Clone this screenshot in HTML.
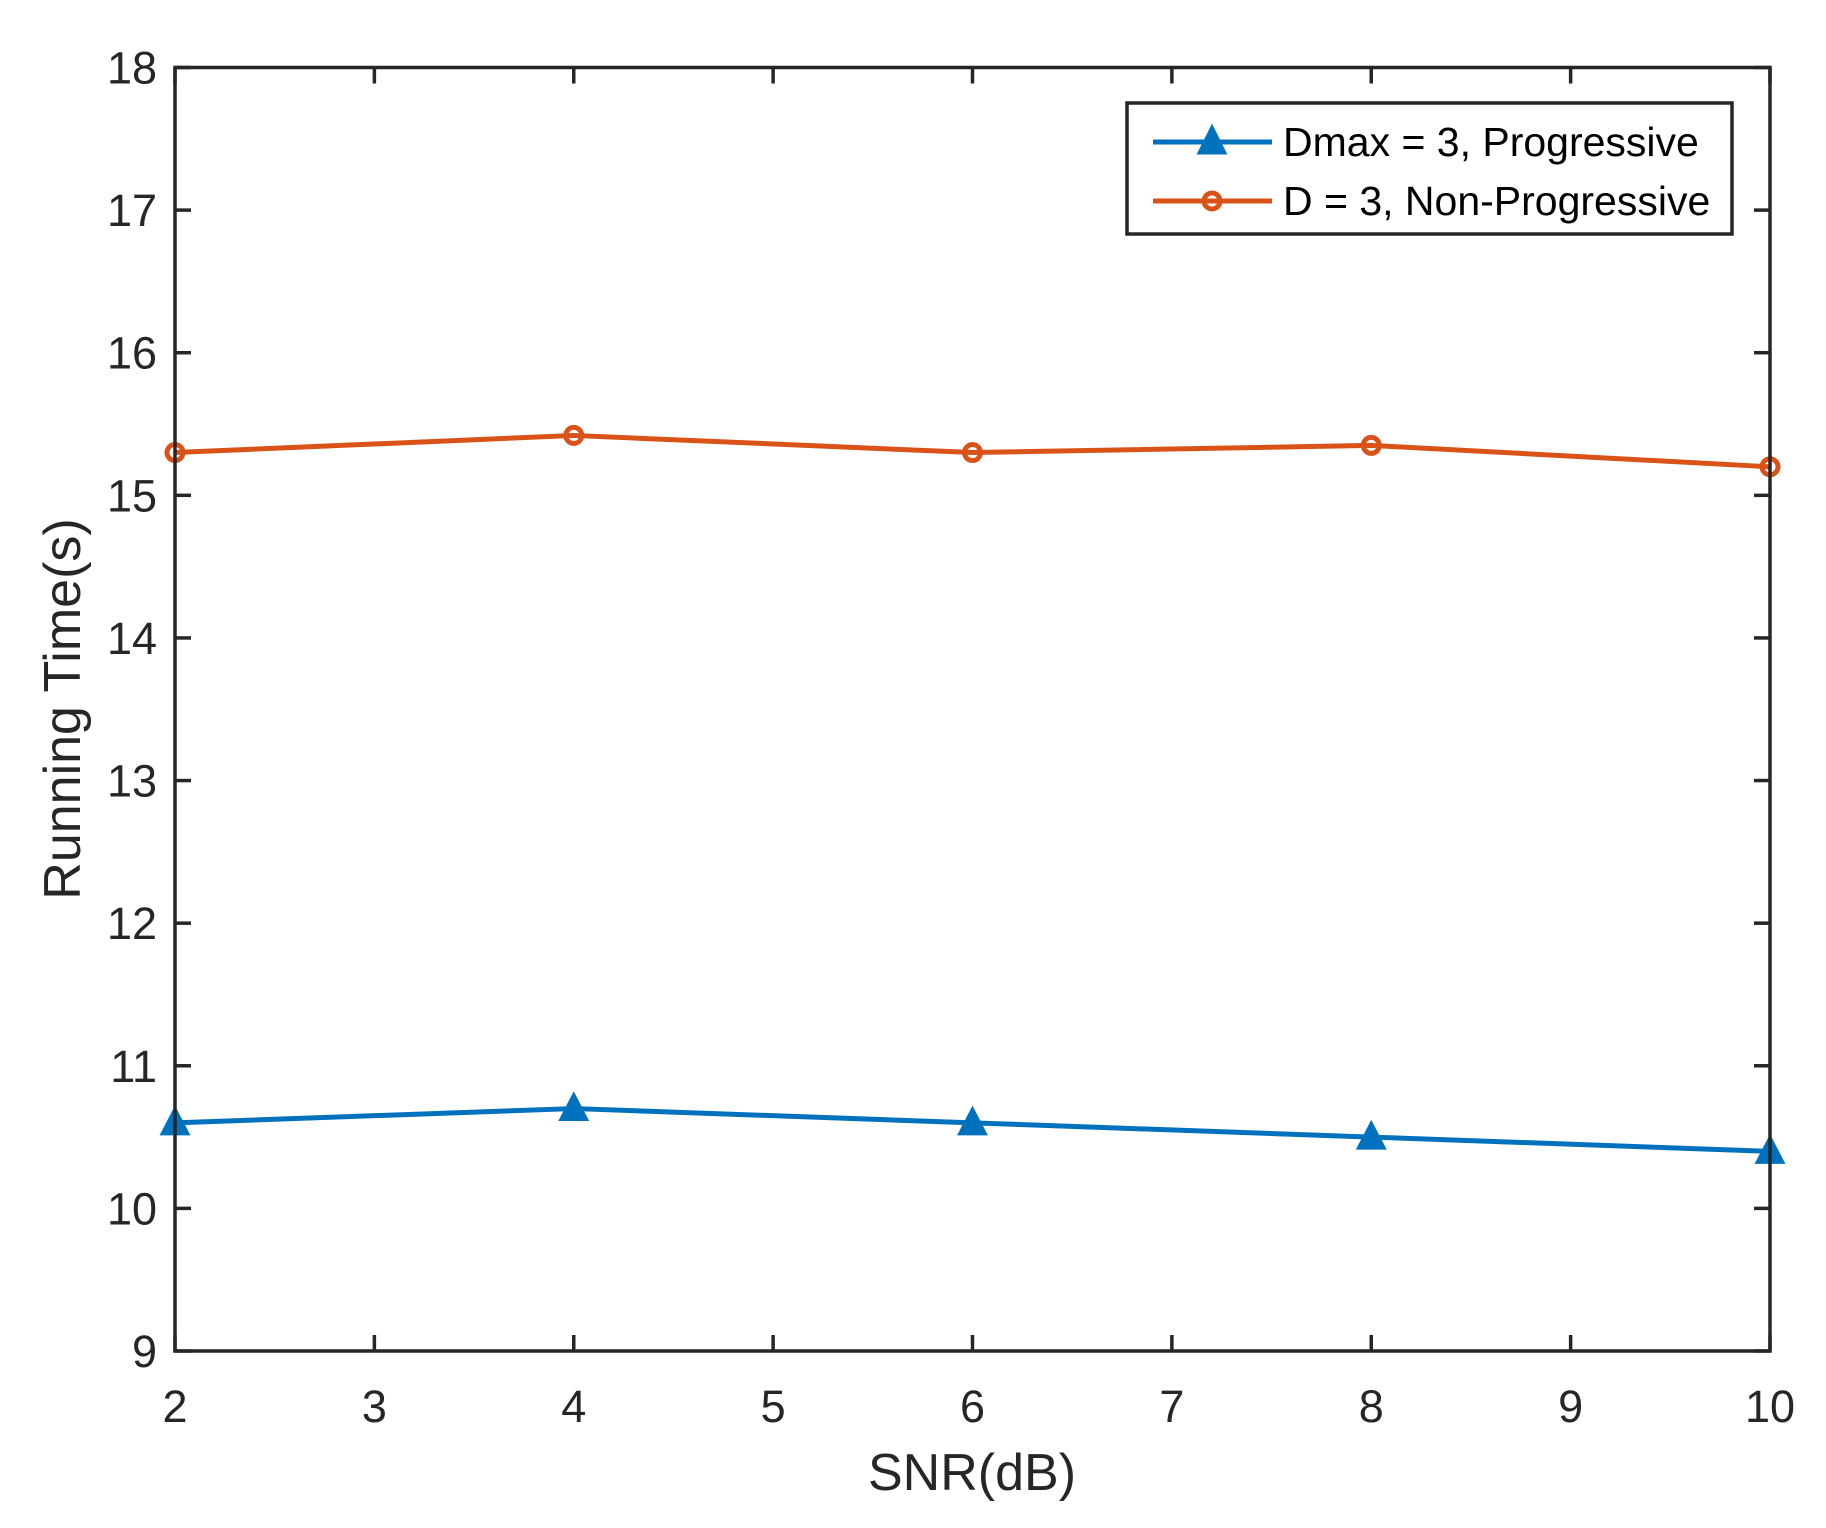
<!DOCTYPE html>
<html><head><meta charset="utf-8"><style>
html,body{margin:0;padding:0;background:#fff}
svg{display:block;font-family:"Liberation Sans",Arial,sans-serif}
</style></head><body>
<svg id="chart" width="1826" height="1528" viewBox="0 0 1826 1528">
<rect width="1826" height="1528" fill="#fff"/>
<g id="grid"></g>
<g id="series"></g>
<rect x="175" y="67.5" width="1595" height="1283.5" fill="none" stroke="#262626" stroke-width="3.5"/>
<text x="972" y="1490" font-size="52" fill="#262626" text-anchor="middle">SNR(dB)</text>
<text transform="translate(80,709) rotate(-90)" font-size="52" fill="#262626" text-anchor="middle">Running Time(s)</text>
<g>
<rect x="1127" y="103" width="605" height="131" fill="#fff" stroke="#262626" stroke-width="3.5"/>
<line x1="1153" y1="142" x2="1272" y2="142" stroke="#0072BD" stroke-width="5"/>
<polygon points="1212,127 1199,153 1225,153" fill="#0072BD" stroke="#0072BD" stroke-width="3"/>
<text x="1283" y="156" font-size="41" fill="#000">Dmax = 3, Progressive</text>
<line x1="1153" y1="201" x2="1272" y2="201" stroke="#D95319" stroke-width="5"/>
<circle cx="1212" cy="201" r="8" fill="none" stroke="#D95319" stroke-width="5"/>
<text x="1283" y="215" font-size="41" fill="#000">D = 3, Non-Progressive</text>
</g>
</svg>
<script>
const snrValues = [2, 4, 6, 8, 10];
const progressiveTimes = [10.6, 10.7, 10.6, 10.5, 10.4];
const nonProgressiveTimes = [15.3, 15.42, 15.3, 15.35, 15.2];
const xTickLabels = ["2","3","4","5","6","7","8","9","10"];
const yTickLabels = ["9","10","11","12","13","14","15","16","17","18"];

const NS = "http://www.w3.org/2000/svg";
const L = 175, R = 1770, T = 67.5, B = 1351;
function xs(v){ return L + (v - 2) / 8 * (R - L); }
function ys(v){ return B - (v - 9) / 9 * (B - T); }
function mk(tag, attrs, parent){
  const e = document.createElementNS(NS, tag);
  for (const k in attrs) e.setAttribute(k, attrs[k]);
  parent.appendChild(e);
  return e;
}
const grid = document.getElementById('grid');
const ser = document.getElementById('series');
xTickLabels.forEach(function(t){
  const v = parseFloat(t), x = xs(v);
  const a = mk('line', {x1:x, y1:B, x2:x, y2:B-16, stroke:'#262626', 'stroke-width':3.5}, grid);
  
  
  const b = mk('line', {x1:x, y1:T, x2:x, y2:T+16, stroke:'#262626', 'stroke-width':3.5}, grid);
  
  
  const tx = mk('text', {x:x, y:1422, 'font-size':45, fill:'#262626', 'text-anchor':'middle'}, grid);
  tx.textContent = t;
  
  
});
yTickLabels.forEach(function(t){
  const v = parseFloat(t), y = ys(v);
  const a = mk('line', {x1:L, y1:y, x2:L+16, y2:y, stroke:'#262626', 'stroke-width':3.5}, grid);
  
  
  const b = mk('line', {x1:R, y1:y, x2:R-16, y2:y, stroke:'#262626', 'stroke-width':3.5}, grid);
  
  
  const tx = mk('text', {x:157, y:y+16, 'font-size':45, fill:'#262626', 'text-anchor':'end'}, grid);
  tx.textContent = t;
  
  
});
function drawSeries(vals, color, marker, name){
  const pts = snrValues.map(function(s, i){ return xs(s) + ',' + ys(vals[i]); }).join(' ');
  const pl = mk('polyline', {points:pts, fill:'none', stroke:color, 'stroke-width':5, 'stroke-linejoin':'round'}, ser);
  
  
  snrValues.forEach(function(s, i){
    const x = xs(s), y = ys(vals[i]);
    let m;
    if (marker === 'tri') {
      m = mk('polygon', {points:(x)+','+(y-14)+' '+(x-13)+','+(y+11)+' '+(x+13)+','+(y+11), fill:color, stroke:color, 'stroke-width':3}, ser);
    } else {
      m = mk('circle', {cx:x, cy:y, r:8, fill:'none', stroke:color, 'stroke-width':5}, ser);
    }
    
    
  });
}
drawSeries(nonProgressiveTimes, '#D95319', 'circle', 'non-progressive');
drawSeries(progressiveTimes, '#0072BD', 'tri', 'progressive');
</script>
</body></html>
